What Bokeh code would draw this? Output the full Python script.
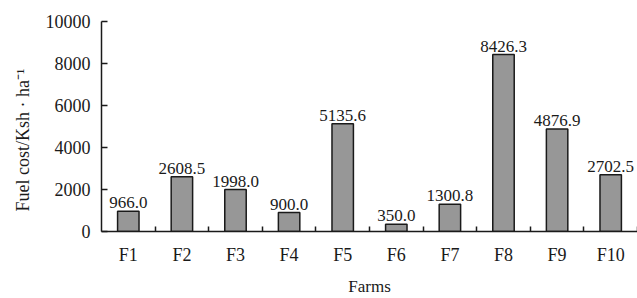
from bokeh.plotting import figure
from bokeh.models import ColumnDataSource, Range1d, FixedTicker
from bokeh.embed import file_html
from bokeh.resources import INLINE

farms = ["F1", "F2", "F3", "F4", "F5", "F6", "F7", "F8", "F9", "F10"]
fuel_cost = [966.0, 2608.5, 1998.0, 900.0, 5135.6, 350.0, 1300.8, 8426.3, 4876.9, 2702.5]
y_ticks = [0, 2000, 4000, 6000, 8000, 10000]

xpos = list(range(1, len(farms) + 1))
labels = [f"{v:.1f}" for v in fuel_cost]
src = ColumnDataSource(dict(x=xpos, top=fuel_cost, label=labels))

FONT = "Liberation Serif"
TXT = "#1a1a1a"

p = figure(width=637, height=298, output_backend="svg", toolbar_location=None,
           x_range=Range1d(0.5, 10.5), y_range=Range1d(0, 10000),
           min_border_left=101, min_border_right=0, min_border_top=21,
           min_border_bottom=67)
p.outline_line_color = None
p.xgrid.visible = False
p.ygrid.visible = False

p.vbar(x="x", top="top", width=0.4, bottom=0, source=src,
       fill_color="#979797", line_color="#1a1a1a", line_width=1.5)
p.text(x="x", y="top", text="label", source=src, text_align="center",
       text_baseline="bottom", y_offset=-3, text_font_size="17px",
       text_font={"value": FONT}, text_color=TXT)

# x axis
xa = p.xaxis[0]
xa.ticker = FixedTicker(ticks=xpos, minor_ticks=[i + 0.5 for i in xpos])
xa.major_label_overrides = {i: f for i, f in zip(xpos, farms)}
xa.major_tick_in = 0
xa.major_tick_out = 0
xa.minor_tick_in = 5
xa.minor_tick_out = 0
xa.minor_tick_line_color = "#1a1a1a"
xa.minor_tick_line_width = 1.5
xa.axis_line_color = "#1a1a1a"
xa.axis_line_width = 1.5
xa.major_label_text_font = FONT
xa.major_label_text_font_size = "18px"
xa.major_label_text_color = TXT
xa.major_label_standoff = 13
xa.axis_label = "Farms"
xa.axis_label_text_font = FONT
xa.axis_label_text_font_size = "17px"
xa.axis_label_text_font_style = "normal"
xa.axis_label_text_color = TXT
xa.axis_label_standoff = 9

# y axis
ya = p.yaxis[0]
ya.ticker = FixedTicker(ticks=y_ticks)
ya.major_tick_in = 6
ya.major_tick_out = 0
ya.major_tick_line_color = "#1a1a1a"
ya.major_tick_line_width = 1.5
ya.minor_tick_line_color = None
ya.axis_line_color = "#1a1a1a"
ya.axis_line_width = 1.5
ya.major_label_text_font = FONT
ya.major_label_text_font_size = "18px"
ya.major_label_text_color = TXT
ya.major_label_standoff = 11
ya.axis_label = "Fuel cost/Ksh \u00b7 ha\u207b\u00b9\u2002\u2002\u2002"
ya.axis_label_text_font = FONT
ya.axis_label_text_font_size = "18px"
ya.axis_label_text_font_style = "normal"
ya.axis_label_text_color = TXT
ya.axis_label_standoff = 10

open("out.html", "w").write(file_html(p, INLINE))
